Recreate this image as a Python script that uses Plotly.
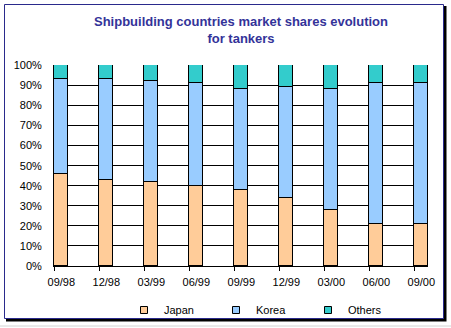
import plotly.graph_objects as go

periods = ["09/98", "12/98", "03/99", "06/99", "09/99", "12/99", "03/00", "06/00", "09/00"]
japan = [46, 43, 42, 40, 38, 34, 28, 21, 21]
korea = [47, 50, 50, 51, 50, 55, 60, 70, 70]
others = [7, 7, 8, 9, 12, 11, 12, 9, 9]

series = [("Japan", japan, "#FFCC99"), ("Korea", korea, "#99CCFF"), ("Others", others, "#33CCCC")]

FONT = "Liberation Sans, Arial, sans-serif"
BAR_W = 0.311
pos = list(range(len(periods)))

fig = go.Figure()
for name, vals, col in series:
    fig.add_trace(go.Bar(x=pos, y=vals, name=name, width=BAR_W, marker=dict(color=col, line=dict(color="black", width=1)),
                         showlegend=False))
for name, vals, col in series:
    fig.add_trace(go.Scatter(x=[None], y=[None], mode="markers", name=name,
                             marker=dict(symbol="square", size=7, color=col, line=dict(color="black", width=1))))

# invisible trace to carry the tick-mark axis
fig.add_trace(go.Scatter(x=[p - BAR_W / 2 for p in pos], y=[None] * len(pos), xaxis="x2", showlegend=False, mode="markers"))

xr = [-0.162, 8.149]
fig.update_layout(
    width=451, height=328,
    margin=dict(l=54, r=23, t=65, b=62, autoexpand=False),
    paper_bgcolor="white", plot_bgcolor="white",
    barmode="stack", bargap=0,
    font=dict(family=FONT, size=11, color="black"),
    title=dict(text="Shipbuilding countries market shares evolution<br>for tankers",
               font=dict(family=FONT, size=13, color="#333399", weight="bold"),
               x=0.5, xanchor="center", xref="paper", y=1 - 26 / 328, yanchor="top", yref="container",
               automargin=False),
    xaxis=dict(range=xr, tickvals=pos, ticktext=periods, ticks="outside", ticklen=6, tickcolor="rgba(0,0,0,0)",
               showline=True, linecolor="black", linewidth=1, showgrid=False, zeroline=False, fixedrange=True,
               automargin=False),
    xaxis2=dict(range=xr, overlaying="x", anchor="y", side="bottom", tickvals=[p - BAR_W / 2 for p in pos],
                ticks="outside", ticklen=4, tickcolor="black", showticklabels=False, showgrid=False, zeroline=False,
                showline=False),
    yaxis=dict(range=[0, 100.2], dtick=10, ticksuffix="%", showgrid=True, gridcolor="black", gridwidth=1,
               showline=True, linecolor="black", linewidth=1, ticks="", zeroline=False, ticklabelstandoff=9,
               automargin=False),
    legend=dict(orientation="h", x=0.5 + 21 / 374, xanchor="center", y=1 - 310 / 328, yanchor="middle",
                yref="container", font=dict(family=FONT, size=11), itemsizing="trace", entrywidth=47,
                traceorder="normal", bgcolor="rgba(0,0,0,0)"),
)

def cx(px):
    return (px - 54) / (451 - 54 - 23)

def cy(py):
    return (328 - 62 - py) / (328 - 65 - 62)

fig.update_layout(shapes=[
    dict(type="rect", xref="paper", yref="paper", x0=cx(6), x1=cx(446.5), y0=cy(321.5), y1=cy(6),
         line=dict(width=0), fillcolor="black", layer="below"),
    dict(type="rect", xref="paper", yref="paper", x0=cx(4.5), x1=cx(443.5), y0=cy(318.5), y1=cy(4.5),
         line=dict(width=1, color="#2A2A8C"), fillcolor="white", layer="below"),
    dict(type="line", xref="paper", yref="paper", x0=cx(0), x1=cx(451), y0=cy(326), y1=cy(326),
         line=dict(width=1, color="#D4D4D4"), layer="below"),
])

fig.write_html("out.html")
